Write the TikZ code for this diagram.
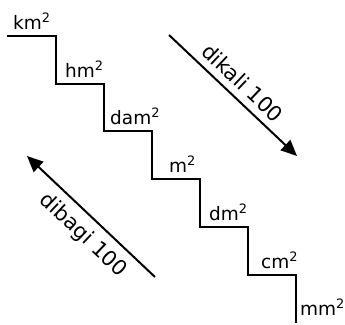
\documentclass[tikz,border=0pt]{standalone}
\usepackage{fontspec}
\setmainfont{DejaVu Sans}
\usetikzlibrary{arrows.meta}
\begin{document}
\begin{tikzpicture}[x=1pt,y=-1pt,
  lbl/.style={anchor=base west,inner sep=0pt,font=\fontsize{18.5}{20}\selectfont},
  stair/.style={line width=2pt,line join=miter},
  conv/.style={line width=2pt,-{Triangle[length=16pt,width=14pt]}},
  rot/.style={inner sep=0pt,font=\fontsize{21}{23}\selectfont,sloped}]
\useasboundingbox (0,0) rectangle (345,324);
\draw[stair] (7,36) -- (56,36) -- (56,84) -- (104,84) -- (104,131) -- (152,131)
  -- (152,179) -- (200,179) -- (200,227) -- (248,227) -- (248,275) -- (296,275) -- (296,323);
\node[lbl] (km) at (13,29) {km\textsuperscript{2}};
\node[lbl] (hm) at (65,77) {hm\textsuperscript{2}};
\node[lbl] (dam) at (110,124) {dam\textsuperscript{2}};
\node[lbl] (m) at (169,172) {m\textsuperscript{2}};
\node[lbl] (dm) at (209,220) {dm\textsuperscript{2}};
\node[lbl] (cm) at (261,268) {cm\textsuperscript{2}};
\node[lbl] (mm) at (300,315) {mm\textsuperscript{2}};
\coordinate (k1) at (169,35);
\coordinate (k2) at (297,156);
\draw[conv] (k1) -- (k2) node[rot,pos=0.49,above=7pt] (kali) {dikali 100};
\coordinate (b1) at (155,277);
\coordinate (b2) at (27,156);
\draw[conv] (b1) -- (b2);
\path (b2) -- (b1) node[rot,pos=0.54,below=9pt] (bagi) {dibagi 100};
\end{tikzpicture}
\end{document}
